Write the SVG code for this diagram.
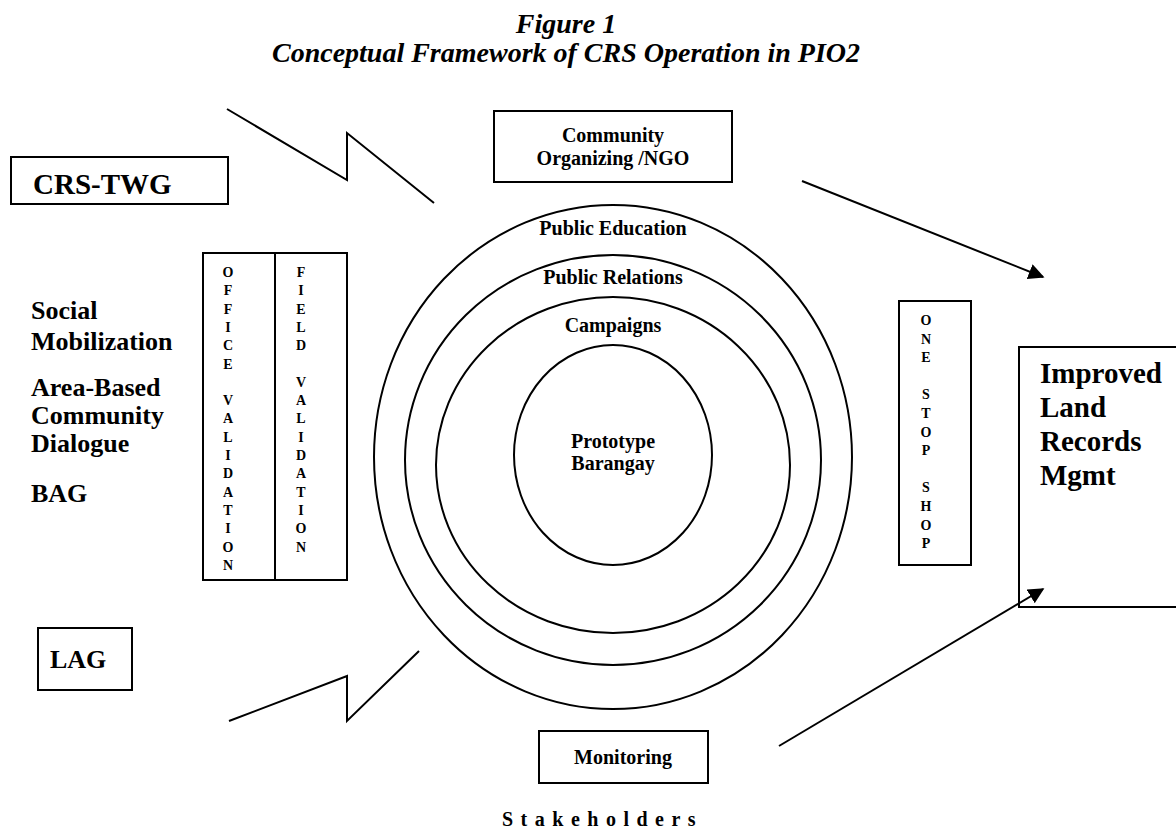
<svg xmlns="http://www.w3.org/2000/svg" width="1176" height="830" viewBox="0 0 1176 830">
<style>
.b{fill:#fff;stroke:#000;stroke-width:2}
.c{fill:none;stroke:#000;stroke-width:2}
.ln{fill:none;stroke:#000;stroke-width:2}
text{font-family:"Liberation Serif","Times New Roman",serif;font-weight:bold;fill:#000}
.t{font-style:italic;font-size:28px}
.m{font-size:20px}
.l{font-size:26px}
.xl{font-size:29px}
.v{font-size:14px}
</style>
<defs>
<marker id="ah" viewBox="0 0 10 10" refX="9" refY="5" markerWidth="16" markerHeight="16" markerUnits="userSpaceOnUse" orient="auto"><path d="M0,0L10,5L0,10z" fill="#000"/></marker>
</defs>
<g id="title" text-anchor="middle">
<text class="t" x="566" y="33">Figure 1</text>
<text class="t" x="566" y="62">Conceptual Framework of CRS Operation in PIO2</text>
</g>
<g id="circles">
<ellipse class="c" cx="613" cy="457" rx="239" ry="252"/>
<ellipse class="c" cx="613" cy="460" rx="208" ry="205"/>
<ellipse class="c" cx="613" cy="465" rx="177" ry="168"/>
<ellipse class="c" cx="613" cy="455" rx="99" ry="110"/>
<g text-anchor="middle">
<text class="m" x="613" y="235">Public Education</text>
<text class="m" x="613" y="284">Public Relations</text>
<text class="m" x="613" y="332">Campaigns</text>
<text class="m" x="613" y="448">Prototype</text>
<text class="m" x="613" y="470">Barangay</text>
</g>
</g>
<g id="community">
<rect class="b" x="494" y="111" width="238" height="71"/>
<text class="m" x="613" y="142" text-anchor="middle">Community</text>
<text class="m" x="613" y="165" text-anchor="middle">Organizing /NGO</text>
</g>
<g id="crstwg">
<rect class="b" x="11" y="157" width="217" height="47"/>
<text class="xl" x="33" y="194">CRS-TWG</text>
</g>
<g id="leftlabels">
<text class="l" x="31" y="319">Social</text>
<text class="l" x="31" y="350">Mobilization</text>
<text class="l" x="31" y="396">Area-Based</text>
<text class="l" x="31" y="424">Community</text>
<text class="l" x="31" y="452">Dialogue</text>
<text class="l" x="31" y="502">BAG</text>
</g>
<g id="validation">
<rect class="b" x="203" y="253" width="144" height="327"/>
<line class="ln" x1="275" y1="253" x2="275" y2="580"/>
<text class="v" x="228" y="277" text-anchor="middle"><tspan x="228">O</tspan><tspan x="228" dy="18.3">F</tspan><tspan x="228" dy="18.3">F</tspan><tspan x="228" dy="18.3">I</tspan><tspan x="228" dy="18.3">C</tspan><tspan x="228" dy="18.3">E</tspan><tspan x="228" dy="36.6">V</tspan><tspan x="228" dy="18.3">A</tspan><tspan x="228" dy="18.3">L</tspan><tspan x="228" dy="18.3">I</tspan><tspan x="228" dy="18.3">D</tspan><tspan x="228" dy="18.3">A</tspan><tspan x="228" dy="18.3">T</tspan><tspan x="228" dy="18.3">I</tspan><tspan x="228" dy="18.3">O</tspan><tspan x="228" dy="18.3">N</tspan></text>
<text class="v" x="301" y="277" text-anchor="middle"><tspan x="301">F</tspan><tspan x="301" dy="18.3">I</tspan><tspan x="301" dy="18.3">E</tspan><tspan x="301" dy="18.3">L</tspan><tspan x="301" dy="18.3">D</tspan><tspan x="301" dy="36.6">V</tspan><tspan x="301" dy="18.3">A</tspan><tspan x="301" dy="18.3">L</tspan><tspan x="301" dy="18.3">I</tspan><tspan x="301" dy="18.3">D</tspan><tspan x="301" dy="18.3">A</tspan><tspan x="301" dy="18.3">T</tspan><tspan x="301" dy="18.3">I</tspan><tspan x="301" dy="18.3">O</tspan><tspan x="301" dy="18.3">N</tspan></text>
</g>
<g id="onestop">
<rect class="b" x="899" y="301" width="72" height="264"/>
<text class="v" x="926" y="325" text-anchor="middle"><tspan x="926">O</tspan><tspan x="926" dy="18.6">N</tspan><tspan x="926" dy="18.6">E</tspan><tspan x="926" dy="37.2">S</tspan><tspan x="926" dy="18.6">T</tspan><tspan x="926" dy="18.6">O</tspan><tspan x="926" dy="18.6">P</tspan><tspan x="926" dy="37.2">S</tspan><tspan x="926" dy="18.6">H</tspan><tspan x="926" dy="18.6">O</tspan><tspan x="926" dy="18.6">P</tspan></text>
</g>
<g id="improved">
<rect class="b" x="1019" y="347" width="170" height="260"/>
<text class="xl" x="1040" y="383">Improved</text>
<text class="xl" x="1040" y="417">Land</text>
<text class="xl" x="1040" y="451">Records</text>
<text class="xl" x="1040" y="485">Mgmt</text>
</g>
<g id="lag">
<rect class="b" x="38" y="628" width="94" height="62"/>
<text class="l" x="50" y="668">LAG</text>
</g>
<g id="monitoring">
<rect class="b" x="539" y="731" width="169" height="52"/>
<text class="m" x="623" y="764" text-anchor="middle">Monitoring</text>
</g>
<g id="stakeholders">
<text class="m" x="502" y="826" letter-spacing="7.5">Stakeholders</text>
</g>
<g id="connectors">
<polyline class="ln" points="227,109 347,180 347,133 434,203"/>
<polyline class="ln" points="229,721 347,676 347,721 419,651"/>
<line class="ln" x1="802" y1="181" x2="1043" y2="277" marker-end="url(#ah)"/>
<line class="ln" x1="779" y1="746" x2="1043" y2="589" marker-end="url(#ah)"/>
</g>
</svg>
